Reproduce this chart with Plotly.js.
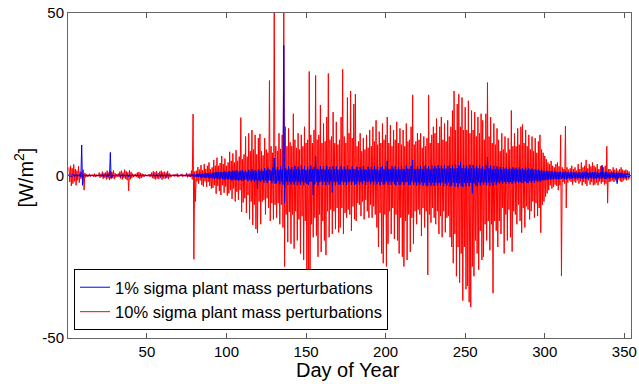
<!DOCTYPE html>
<html>
<head>
<meta charset="utf-8">
<script src="https://cdn.plot.ly/plotly-3.0.1.min.js"></script>
<style>html,body{margin:0;padding:0;background:#fff;}#chart{width:639px;height:384px;}</style>
</head>
<body>
<div id="chart"></div>
<script>
// Day-of-year samples: per-day upper and lower extremes [W/m^2]
const redHi = [
 2.5,3.0,2.2,3.4,2.0,1.5,2.8,1.2,1.0,1.8,
 0.8,0.4,0.3,0.5,0.2,0.3,0.6,0.3,0.2,0.9,
 0.5,1.2,0.8,1.0,1.5,0.9,1.3,1.1,1.6,0.7,
 0.4,0.6,1.2,1.5,0.9,1.8,1.3,1.0,1.6,1.1,
 0.6,0.3,0.5,0.9,1.1,0.8,0.6,0.4,0.3,0.2,
 0.3,0.5,0.9,1.3,1.0,1.4,0.8,1.2,1.5,1.0,
 1.2,0.9,1.4,0.7,0.3,0.2,0.4,0.3,0.6,0.2,
 0.3,0.5,0.2,0.3,0.8,0.4,0.6,1.5,18.9,1.2,
 1.5,2.6,1.8,3.2,1.6,3.5,2.0,3.0,4.0,2.0,
 2.5,4.8,3.0,5.5,3.0,3.8,6.0,3.5,5.2,3.0,
 4.0,7.3,4.5,6.8,4.0,7.8,4.5,5.8,17.8,5.0,
 6.5,12.0,5.8,13.0,7.5,14.0,8.0,12.5,6.5,11.5,
 12.8,7.5,6.2,11.5,8.0,7.0,29.2,9.0,7.0,55,
 9.0,7.5,13.0,8.2,12.5,55,15.0,9.0,14.5,10.2,
 9.0,19.0,11.0,8.5,13.0,8.0,12.5,9.0,15.0,10.0,
 11.0,32.0,12.5,10.0,14.0,30.8,11.0,12.5,21.7,10.0,
 16.0,10.5,18.0,31.4,11.0,12.0,19.5,10.0,16.5,9.5,
 11.0,18.0,32.7,12.0,10.0,24.0,13.0,26.0,11.5,22.0,
 25.0,9.0,10.5,13.0,7.5,11.5,8.0,12.5,8.5,14.0,
 9.0,15.0,10.5,17.0,9.5,13.5,10.0,16.0,11.0,12.5,
 18.0,10.0,15.5,9.0,14.0,11.0,16.5,10.0,14.5,9.5,
 14.0,9.0,16.0,10.5,11.0,15.0,24.8,9.5,10.5,13.0,
 11.0,13.0,8.5,12.0,9.0,11.5,24.8,10.0,12.5,15.0,
 13.0,17.5,10.0,15.0,18.0,11.0,16.0,10.5,17.0,12.0,
 15.0,20.0,26.0,14.0,22.0,25.0,15.0,24.0,14.0,21.0,
 14.0,23.0,13.0,20.0,14.0,19.5,12.0,18.0,13.0,19.0,
 17.0,11.0,19.0,28.6,12.0,18.0,10.0,16.0,9.5,14.5,
 11.0,7.5,13.0,8.0,12.0,7.0,11.5,8.0,20.0,9.0,
 13.0,9.0,14.5,9.5,15.0,15.7,10.0,14.0,9.0,12.5,
 8.0,12.0,7.5,11.5,7.0,10.5,12.5,8.0,7.0,6.0,
 5.0,4.0,3.5,4.5,3.0,2.5,3.5,4.0,2.8,12.5,
 2.5,2.0,15.2,2.5,1.8,2.2,3.0,2.0,2.5,1.5,
 3.5,2.0,4.0,2.5,3.0,4.8,2.2,3.5,2.8,4.0,
 3.0,2.5,3.5,2.0,2.8,3.2,2.5,3.0,9.0,2.0,
 2.0,1.5,2.5,1.8,2.2,1.5,2.0,2.5,1.8,1.5,
 1.8,1.5,1.2
];
const redLo = [
 -2.0,-3.2,-2.5,-1.8,-3.0,-1.5,-2.2,-1.0,-0.8,-4.5,
 -0.6,-0.4,-0.3,-0.3,-0.2,-0.4,-0.5,-0.3,-0.2,-0.7,
 -0.4,-1.0,-0.7,-1.2,-0.9,-1.4,-1.0,-0.8,-1.1,-0.6,
 -0.3,-0.5,-0.9,-1.2,-0.8,-1.0,-1.4,-4.7,-1.2,-0.8,
 -0.5,-0.3,-0.4,-0.8,-1.0,-0.7,-0.5,-0.3,-0.2,-0.2,
 -0.3,-0.4,-0.8,-1.0,-1.2,-0.9,-1.1,-0.8,-1.3,-0.9,
 -1.0,-0.8,-1.1,-0.6,-0.3,-0.2,-0.3,-0.2,-0.5,-0.2,
 -0.2,-0.4,-0.2,-0.3,-0.6,-0.4,-0.5,-1.2,-25.8,-8.0,
 -1.8,-2.5,-1.5,-2.9,-3.4,-1.8,-3.5,-2.0,-3.2,-4.0,
 -3.8,-3.0,-5.6,-3.2,-4.8,-6.0,-3.0,-5.3,-3.4,-6.2,
 -5.5,-4.5,-7.2,-4.0,-8.0,-5.0,-7.5,-4.5,-11.2,-8.3,
 -7.0,-11.5,-6.0,-13.5,-8.0,-15.2,-9.0,-16.5,-17.7,-8.0,
 -15.0,-8.0,-7.5,-12.0,-7.0,-10.0,-14.0,-8.5,-13.5,-9.0,
 -13.0,-8.5,-15.0,-9.0,-16.0,-28.0,-12.0,-20.5,-11.2,-21.0,
 -12.0,-22.5,-11.0,-20.0,-13.5,-24.0,-12.5,-26.0,-14.0,-30.0,
 -36.0,-33.0,-15.0,-19.0,-13.0,-18.5,-25.0,-12.0,-23.5,-14.0,
 -20.0,-24.5,-11.0,-19.0,-10.5,-18.0,-11.0,-16.5,-10.0,-17.5,
 -16.0,-10.0,-18.0,-11.5,-13.0,-10.5,-12.0,-17.0,-9.5,-13.5,
 -14.0,-8.5,-9.0,-12.5,-8.0,-13.5,-7.5,-11.0,-13.0,-9.0,
 -13.0,-9.5,-12.0,-16.0,-22.0,-11.5,-24.0,-27.0,-12.0,-28.0,
 -21.0,-11.0,-18.0,-10.0,-19.5,-12.0,-20.0,-24.0,-13.0,-25.0,
 -28.0,-14.0,-26.0,-12.0,-23.5,-13.0,-21.0,-11.0,-15.0,-10.5,
 -12.0,-18.6,-10.0,-16.0,-11.0,-30.6,-12.0,-14.5,-10.0,-13.0,
 -15.0,-11.0,-18.0,-12.5,-19.0,-11.0,-17.5,-13.0,-12.5,-19.0,
 -22.0,-27.0,-18.0,-31.0,-22.0,-33.0,-24.0,-38.5,-22.0,-35.0,
 -34.0,-39.0,-40.5,-28.0,-31.0,-20.0,-24.0,-29.0,-17.0,-26.0,
 -25.0,-15.0,-20.0,-14.0,-23.0,-15.0,-36.2,-14.0,-17.0,-22.0,
 -14.0,-18.0,-10.0,-24.0,-12.0,-20.0,-10.5,-19.0,-23.4,-11.0,
 -12.0,-15.0,-9.0,-14.0,-17.6,-10.0,-16.0,-9.5,-10.5,-13.5,
 -11.0,-8.0,-13.0,-8.5,-12.5,-10.0,-17.6,-9.0,-8.0,-6.5,
 -5.5,-4.5,-3.0,-4.0,-3.5,-2.8,-3.2,-4.5,-3.0,-30.9,
 -2.0,-2.5,-10.0,-2.2,-1.5,-2.0,-2.8,-1.8,-2.2,-1.5,
 -2.5,-1.8,-3.0,-2.0,-2.5,-3.2,-1.5,-2.8,-2.0,-3.0,
 -2.8,-2.2,-3.0,-1.8,-2.5,-2.0,-2.8,-2.5,-8.5,-2.0,
 -1.8,-1.5,-2.0,-1.5,-2.0,-1.2,-1.8,-2.0,-1.5,-1.2,
 -1.5,-1.2,-1.0
];
const blueHi = [
 0.3,0.2,0.4,0.3,0.2,0.3,0.2,0.5,9.4,0.3,
 0.1,0.2,0.1,0.1,0.2,0.1,0.1,0.2,0.1,0.1,
 0.2,0.3,0.2,0.4,0.3,0.2,7.1,0.3,0.2,0.1,
 0.1,0.2,0.3,0.2,0.3,0.2,0.2,0.3,0.2,0.1,
 0.1,0.1,0.2,0.2,0.1,0.2,0.1,0.1,0.1,0.1,
 0.1,0.2,0.2,0.3,0.2,0.3,0.2,0.2,0.3,0.2,
 0.2,0.2,0.3,0.1,0.1,0.1,0.1,0.1,0.2,0.1,
 0.1,0.2,0.1,0.1,0.3,0.2,0.2,0.3,0.4,0.3,
 0.4,0.5,0.6,0.5,0.7,0.6,0.8,0.6,0.7,0.8,
 0.8,1.0,0.9,1.1,0.9,1.2,1.0,1.1,1.3,1.0,
 1.2,1.4,1.1,1.5,1.3,1.6,1.4,1.2,1.5,1.7,
 1.2,1.6,1.1,1.8,1.3,2.0,1.4,1.7,1.3,1.9,
 1.5,2.1,1.4,2.3,1.6,2.4,1.8,1.5,2.6,5.4,
 1.8,2.6,1.7,2.8,1.9,40.0,2.2,1.8,2.9,2.0,
 2.6,1.8,3.0,1.9,2.7,1.8,3.1,2.0,2.8,1.7,
 2.7,1.9,3.0,2.0,2.6,5.8,2.0,1.8,2.9,2.0,
 2.8,1.8,3.0,1.9,2.6,1.7,2.9,2.0,2.8,1.8,
 2.0,2.9,1.8,2.7,1.9,3.0,2.0,1.8,2.8,2.0,
 1.9,2.7,1.7,2.6,1.8,2.8,2.0,1.7,2.7,1.9,
 2.6,1.8,2.9,1.9,2.7,1.7,2.6,3.0,1.9,2.8,
 4.5,2.0,1.9,2.9,2.0,2.8,1.8,2.7,1.9,3.0,
 2.0,1.9,3.1,2.1,2.0,2.9,4.8,2.0,1.9,2.8,
 2.0,3.0,2.0,2.8,3.2,2.1,2.9,1.9,3.1,2.1,
 2.9,2.1,3.2,2.2,3.0,2.1,3.3,2.1,2.9,3.1,
 2.2,3.2,2.1,3.4,2.3,3.1,4.2,2.3,3.2,2.2,
 3.1,2.1,3.3,2.3,3.2,2.1,3.0,2.2,3.1,2.1,
 2.9,2.0,3.2,5.6,2.2,3.1,2.0,2.9,2.0,2.8,
 2.0,2.6,1.9,2.5,2.1,2.6,2.0,2.4,1.9,2.5,
 1.9,2.4,1.8,2.5,1.9,2.3,1.8,2.4,1.7,2.2,
 1.7,2.1,1.6,2.0,1.6,1.9,1.5,1.8,1.4,1.3,
 1.5,1.3,1.4,1.2,1.3,1.1,1.2,1.0,1.1,1.2,
 1.0,1.1,1.4,1.0,0.9,1.0,1.1,0.9,1.0,0.8,
 0.9,1.0,0.8,1.1,0.9,1.2,0.8,1.0,0.9,1.1,
 1.0,0.9,1.1,0.8,1.0,3.0,0.9,1.0,1.2,0.8,
 0.9,0.8,1.0,0.7,0.9,0.8,0.7,0.9,0.8,0.6,
 0.7,0.6,0.5
];
const blueLo = [
 -0.3,-0.4,-0.2,-0.3,-0.2,-0.3,-0.2,-0.4,-3.0,-0.2,
 -0.1,-0.1,-0.2,-0.1,-0.1,-0.2,-0.1,-0.1,-0.2,-0.1,
 -0.2,-0.3,-0.2,-0.3,-0.4,-0.2,-0.8,-0.3,-0.2,-0.1,
 -0.1,-0.2,-0.3,-0.2,-0.2,-0.3,-0.2,-0.4,-0.2,-0.1,
 -0.1,-0.1,-0.1,-0.2,-0.2,-0.1,-0.1,-0.1,-0.1,-0.1,
 -0.1,-0.1,-0.2,-0.2,-0.3,-0.2,-0.2,-0.3,-0.2,-0.2,
 -0.2,-0.3,-0.2,-0.1,-0.1,-0.1,-0.1,-0.1,-0.1,-0.1,
 -0.1,-0.1,-0.2,-0.1,-0.2,-0.2,-0.3,-0.2,-0.5,-0.3,
 -0.5,-0.4,-0.6,-0.7,-0.5,-0.8,-0.6,-0.7,-0.9,-0.7,
 -0.9,-1.1,-0.8,-1.0,-1.2,-0.9,-1.1,-1.3,-1.0,-1.2,
 -1.1,-1.3,-1.5,-1.2,-1.4,-1.3,-1.6,-1.4,-1.7,-1.5,
 -1.4,-1.1,-1.7,-1.2,-1.8,-1.3,-1.9,-1.4,-4.0,-1.5,
 -2.0,-1.4,-2.2,-1.5,-2.3,-1.6,-1.5,-2.4,-1.6,-2.5,
 -2.4,-1.7,-2.7,-1.8,-2.8,-8.5,-1.9,-2.9,-1.9,-2.7,
 -1.9,-2.8,-1.8,-3.0,-2.0,-2.9,-1.9,-3.0,-2.1,-2.6,
 -2.9,-2.0,-1.8,-6.0,-2.8,-1.9,-3.0,-2.0,-1.9,-2.9,
 -1.9,-2.9,-2.0,-2.8,-1.8,-5.2,-2.0,-3.0,-1.9,-2.8,
 -2.8,-1.9,-2.9,-2.0,-3.0,-2.1,-1.8,-2.8,-1.9,-2.9,
 -2.7,-1.8,-2.8,-1.9,-2.7,-1.7,-2.9,-2.0,-1.8,-2.7,
 -1.9,-2.8,-1.8,-2.7,-2.0,-3.0,-1.9,-2.8,-2.7,-1.8,
 -2.8,-2.0,-2.9,-1.9,-2.7,-3.0,-2.0,-2.9,-2.8,-1.9,
 -2.9,-2.1,-2.0,-3.0,-2.8,-1.9,-2.9,-2.1,-3.1,-2.2,
 -2.9,-2.1,-3.1,-2.2,-3.0,-3.3,-2.1,-3.1,-2.2,-3.2,
 -2.2,-3.1,-2.3,-3.2,-2.1,-3.3,-2.4,-3.1,-2.1,-3.4,
 -3.1,-2.2,-3.4,-2.3,-3.6,-2.4,-3.1,-3.5,-2.3,-3.3,
 -2.3,-3.3,-2.2,-5.5,-2.4,-3.0,-3.3,-2.1,-3.1,-2.2,
 -2.8,-2.1,-3.0,-2.2,-3.2,-2.1,-3.1,-2.0,-2.9,-2.1,
 -2.5,-1.9,-2.6,-2.0,-2.5,-1.9,-2.4,-2.0,-2.5,-1.8,
 -2.4,-1.8,-2.3,-1.9,-2.2,-2.4,-1.8,-2.2,-2.3,-1.7,
 -2.1,-1.6,-2.2,-1.5,-2.0,-1.6,-1.9,-1.4,-1.5,-1.3,
 -1.4,-1.2,-1.3,-1.1,-1.2,-1.0,-1.1,-1.2,-1.0,-1.1,
 -0.9,-1.0,-1.2,-0.9,-0.8,-1.0,-0.9,-0.8,-1.0,-0.8,
 -0.8,-0.9,-1.0,-0.8,-1.0,-0.9,-1.1,-0.8,-0.9,-1.0,
 -0.9,-1.0,-0.8,-0.9,-1.0,-0.8,-0.9,-1.1,-0.8,-0.9,
 -0.8,-0.7,-0.9,-0.8,-2.5,-0.7,-0.8,-0.7,-0.6,-0.7,
 -0.6,-0.5,-0.5
];
const xTicks = [50, 100, 150, 200, 250, 300, 350];
const yTicks = [-50, 0, 50];
const seriesNames = ['1% sigma plant mass perturbations', '10% sigma plant mass perturbations'];
const xTitle = 'Day of Year';
const yTitle = '[W/m<sup>2</sup>]';

function zigzag(hi, lo) {
  const x = [], y = [];
  for (let i = 0; i < hi.length; i++) {
    const day = i + 1;
    x.push(day, day + 0.5);
    y.push(hi[i], lo[i]);
  }
  return {x, y};
}
const r = zigzag(redHi, redLo);
const b = zigzag(blueHi, blueLo);

const FONT = 'Liberation Sans, Arial, Helvetica, sans-serif';
const traces = [
  {x: r.x, y: r.y, type: 'scatter', mode: 'lines', name: seriesNames[1],
   line: {color: '#ff0000', width: 1}, legendrank: 2, hoverinfo: 'skip'},
  {x: b.x, y: b.y, type: 'scatter', mode: 'lines', name: seriesNames[0],
   line: {color: '#0000ff', width: 1}, legendrank: 1, hoverinfo: 'skip'}
];
const layout = {
  width: 639, height: 384,
  margin: {l: 68, r: 8, t: 13, b: 46, pad: 0},
  paper_bgcolor: '#ffffff', plot_bgcolor: '#ffffff',
  font: {family: FONT, color: '#000', size: 15},
  showlegend: true,
  legend: {x: 0.0107, y: 0.0246, xanchor: 'left', yanchor: 'bottom',
    bgcolor: '#ffffff', bordercolor: '#000', borderwidth: 1,
    font: {family: FONT, size: 16.5, color: '#000'}},
  xaxis: {range: [0.4, 354.2], tickvals: xTicks, ticktext: xTicks.map(String),
    ticks: 'inside', ticklen: 5, tickcolor: '#555', showline: true, linecolor: '#666',
    mirror: 'ticks', showgrid: false, zeroline: false,
    tickfont: {family: FONT, size: 15, color: '#000'}},
  yaxis: {range: [-50, 50], tickvals: yTicks, ticktext: yTicks.map(String),
    ticks: 'inside', ticklen: 5, tickcolor: '#555', showline: true, linecolor: '#666',
    mirror: 'ticks', showgrid: false, zeroline: false,
    tickfont: {family: FONT, size: 15, color: '#000'}},
  annotations: [
    {text: xTitle, xref: 'paper', yref: 'paper', x: 0.498, y: -0.0985,
     xanchor: 'center', yanchor: 'middle', showarrow: false,
     font: {family: FONT, size: 20, color: '#000'}},
    {text: yTitle, xref: 'paper', yref: 'paper', x: 0, y: 0.492, xshift: -44.5,
     xanchor: 'center', yanchor: 'middle', showarrow: false, textangle: -90,
     font: {family: FONT, size: 20, color: '#000'}}
  ]
};
Plotly.newPlot('chart', traces, layout, {staticPlot: true, displayModeBar: false});
</script>
</body>
</html>
